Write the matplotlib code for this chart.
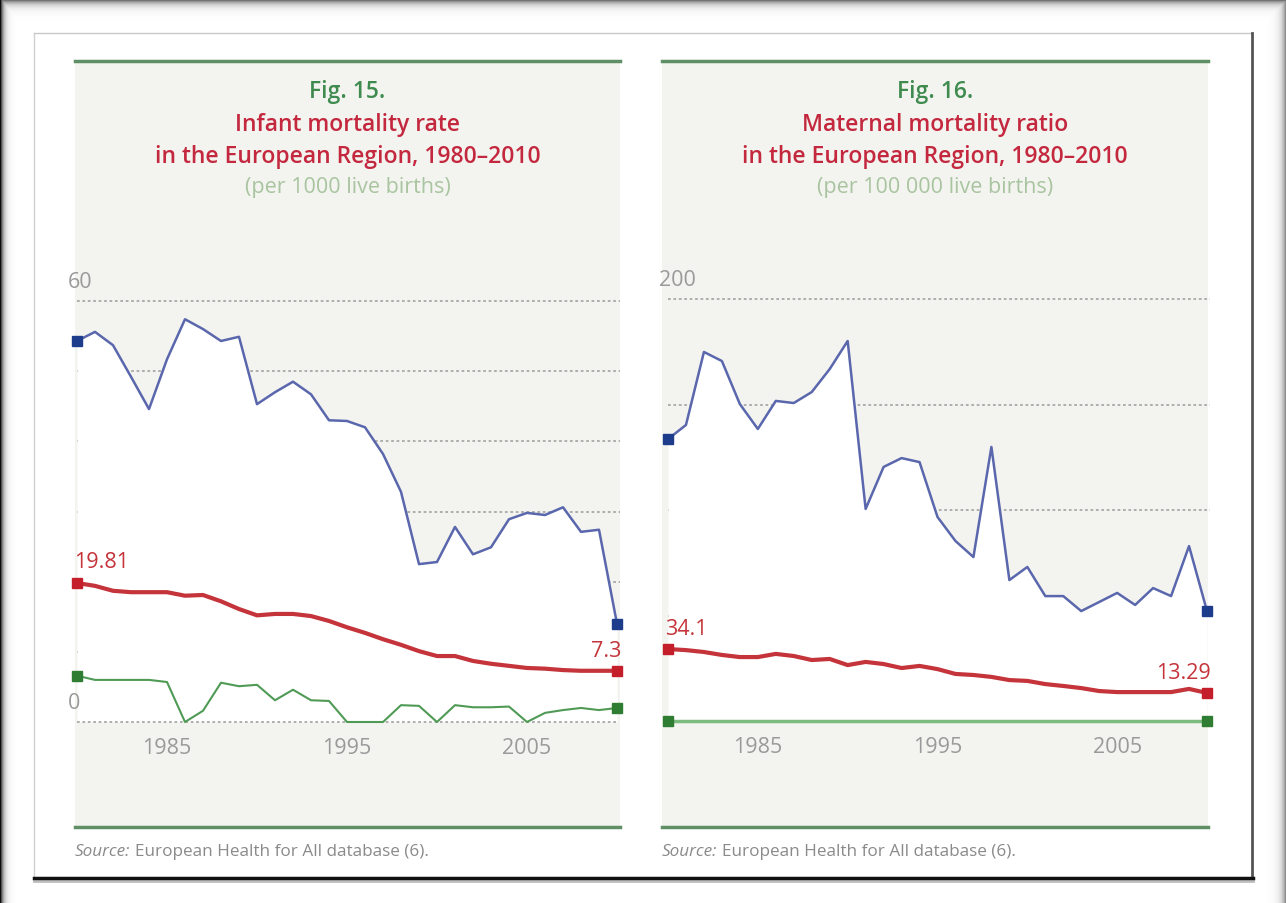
import matplotlib
matplotlib.use("Agg")
import matplotlib.pyplot as plt
import numpy as np
from matplotlib.patches import Rectangle
from matplotlib.lines import Line2D

# ---------------- data ----------------
years = list(range(1980, 2011))

infant_max = [54.3, 55.6, 53.7, 49.2, 44.6, 51.7, 57.4, 56.0, 54.3, 54.9,
              45.3, 47.0, 48.5, 46.7, 43.0, 42.9, 42.0, 38.2, 32.8, 22.5,
              22.8, 27.8, 23.9, 24.9, 28.9, 29.8, 29.5, 30.6, 27.1, 27.4, 14.0]
infant_avg = [19.81, 19.4, 18.7, 18.5, 18.5, 18.5, 18.0, 18.1, 17.2, 16.1,
              15.2, 15.4, 15.4, 15.1, 14.4, 13.5, 12.7, 11.8, 11.0, 10.1,
              9.4, 9.4, 8.7, 8.3, 8.0, 7.7, 7.6, 7.4, 7.3, 7.3, 7.3]
infant_min = [6.6, 6.0, 6.0, 6.0, 6.0, 5.7, 0.0, 1.6, 5.6, 5.1,
              5.3, 3.1, 4.6, 3.1, 3.0, 0.0, 0.0, 0.0, 2.4, 2.3,
              0.0, 2.4, 2.1, 2.1, 2.2, 0.0, 1.3, 1.7, 2.0, 1.7, 2.0]

maternal_max = [133.6, 140.3, 174.9, 170.6, 150.2, 138.4, 151.7, 150.7, 155.9, 166.8,
                180.1, 100.5, 120.4, 124.6, 122.7, 96.7, 85.3, 77.7, 129.9, 66.8,
                73.0, 59.2, 59.2, 52.1, 56.4, 60.7, 55.0, 63.0, 59.2, 82.9, 52.1]
maternal_avg = [34.1, 33.6, 32.7, 31.3, 30.3, 30.3, 31.8, 30.8, 28.9, 29.4,
                26.5, 28.0, 27.0, 25.1, 26.1, 24.6, 22.3, 21.8, 20.9, 19.4,
                19.0, 17.5, 16.6, 15.6, 14.2, 13.7, 13.7, 13.7, 13.7, 15.2, 13.29]
maternal_min = [0, 0, 0, 0, 0, 0, 0, 0, 0, 0,
                0, 0, 0, 0, 0, 0, 0, 0, 0, 0,
                0, 0, 0, 0, 0, 0, 0, 0, 0, 0, 0]

xtick_years = [1985, 1995, 2005]
infant_grid = [10, 20, 30, 40, 50, 60]
infant_ylabels = [0, 60]
maternal_grid = [50, 100, 150, 200]
maternal_ylabels = [200]

titles = [
    ("Fig. 15.", "Infant mortality rate", "in the European Region, 1980\u20132010",
     "(per 1000 live births)"),
    ("Fig. 16.", "Maternal mortality ratio", "in the European Region, 1980\u20132010",
     "(per 100 000 live births)"),
]
source_text = "European Health for All database (6)."

# ---------------- style ----------------
FONT = ["Open Sans", "DejaVu Sans"]
plt.rcParams["font.family"] = FONT

W, H = 1286, 904
fig = plt.figure(figsize=(W / 100, H / 100), dpi=100)
fig.patch.set_facecolor("white")

def fx(x):
    return x / W

def fy(y):
    return 1 - y / H

C_PANEL = "#f3f4ef"
C_GREEN_RULE = "#5f8f65"
C_BLUE = "#5a67ad"
C_BLUE_M = "#1d3d8c"
C_RED = "#c4343a"
C_RED_M = "#c41e2a"
C_GREEN = "#4f9a55"
C_GREEN_M = "#2e7d32"
C_GREEN_R = "#7cbb80"
C_GRID = "#a8a8a8"
C_TICK = "#9a9a9a"
C_FIGT = "#3f8b4f"
C_TITLE = "#c4283f"
C_SUB = "#a9c4a0"

# ---------------- page frame / vignette ----------------
bg = fig.add_axes([0, 0, 1, 1], zorder=-10)
yy, xx = np.mgrid[0:H, 0:W]
alpha = np.maximum.reduce([
    0.7 * np.exp(-yy / 4.0),
    0.95 * np.exp(-xx / 3.0),
    0.45 * np.exp(-(W - 1 - xx) / 4.0),
])
img = np.zeros((H, W, 4))
img[..., 3] = alpha
bg.imshow(img, extent=[0, W, H, 0], aspect="auto", interpolation="bilinear")
bg.set_xlim(0, W)
bg.set_ylim(H, 0)
bg.axis("off")

fig.add_artist(Line2D([fx(34), fx(1252)], [fy(34), fy(34)], color="#c8c8c8", lw=1))
fig.add_artist(Line2D([fx(34), fx(34)], [fy(34), fy(879)], color="#d0d0d0", lw=1))
fig.add_artist(Line2D([fx(1252), fx(1252)], [fy(34), fy(879)], color="#555555", lw=2))
fig.add_artist(Line2D([fx(34), fx(1253)], [fy(882), fy(882)], color="#bdbdbd", lw=2))
fig.add_artist(Line2D([fx(34), fx(1253)], [fy(879), fy(879)], color="#111111", lw=2.5))

# ---------------- panels ----------------
panels = [
    dict(x0=75, x1=620, ax_x0=77, ax_x1=617, y0px=723, ytop_px=302, ymax=60,
         maxs=infant_max, avgs=infant_avg, mins=infant_min, grid=infant_grid,
         ylabels=infant_ylabels, baseline=True, min_color=C_GREEN, min_lw=1.5),
    dict(x0=662, x1=1208, ax_x0=668, ax_x1=1207, y0px=722, ytop_px=300, ymax=200,
         maxs=maternal_max, avgs=maternal_avg, mins=maternal_min, grid=maternal_grid,
         ylabels=maternal_ylabels, baseline=False, min_color=C_GREEN_R, min_lw=2.5),
]

TITLE_FS = 16.5
LABEL_FS = 15.5

for i, p in enumerate(panels):
    # panel background and rules
    fig.add_artist(Rectangle((fx(p["x0"]), fy(828)), fx(p["x1"]) - fx(p["x0"]),
                             (828 - 62) / H, transform=fig.transFigure,
                             facecolor=C_PANEL, edgecolor="none", zorder=-5))
    fig.add_artist(Line2D([fx(p["x0"]), fx(p["x1"])], [fy(62), fy(62)],
                          color=C_GREEN_RULE, lw=2.5))
    fig.add_artist(Line2D([fx(p["x0"]), fx(p["x1"])], [fy(828), fy(828)],
                          color=C_GREEN_RULE, lw=2.5))

    # titles
    cx = fx((p["x0"] + p["x1"]) / 2)
    t = titles[i]
    fig.text(cx, fy(92), t[0], color=C_FIGT, fontsize=TITLE_FS, ha="center", va="center",
             fontweight="semibold")
    fig.text(cx, fy(125), t[1], color=C_TITLE, fontsize=TITLE_FS, ha="center", va="center",
             fontweight="semibold")
    fig.text(cx, fy(157), t[2], color=C_TITLE, fontsize=TITLE_FS, ha="center", va="center",
             fontweight="semibold")
    fig.text(cx, fy(188), t[3], color=C_SUB, fontsize=15.5, ha="center", va="center")

    # source
    st = fig.text(fx(p["x0"]), fy(852), "Source:", color="#8a8a8a", fontsize=12.3,
                  style="italic", ha="left", va="center")
    fig.canvas.draw()
    bb = st.get_window_extent()
    fig.text((bb.x1 + 5) / W, fy(852), source_text, color="#8a8a8a", fontsize=12.3,
             ha="left", va="center")

    # data axes
    ax = fig.add_axes([fx(p["ax_x0"]), fy(p["y0px"]), fx(p["ax_x1"]) - fx(p["ax_x0"]),
                       (p["y0px"] - p["ytop_px"]) / H])
    ax.set_xlim(years[0], years[-1])
    ax.set_ylim(0, p["ymax"])
    ax.axis("off")
    ax.patch.set_alpha(0)

    for g in p["grid"]:
        ax.plot([years[0], years[-1] + 0.15], [g, g], color=C_GRID, lw=1.3,
                ls=(0, (1.5, 1.5)), zorder=1, clip_on=False)

    ax.fill_between(years, 0, p["maxs"], color="white", zorder=2, lw=0)

    if p["baseline"]:
        ax.plot([years[0], years[-1]], [0, 0], color=C_GRID, lw=1.3,
                ls=(0, (1.5, 1.5)), zorder=3, clip_on=False)

    ax.plot(years, p["maxs"], color=C_BLUE, lw=1.8, zorder=4, clip_on=False)
    ax.plot(years, p["avgs"], color=C_RED, lw=3.0, zorder=5, clip_on=False)
    ax.plot(years, p["mins"], color=p["min_color"], lw=p["min_lw"], zorder=4,
            clip_on=False)

    for series, mc in ((p["maxs"], C_BLUE_M), (p["avgs"], C_RED_M), (p["mins"], C_GREEN_M)):
        ax.plot([years[0], years[-1]], [series[0], series[-1]], ls="none", marker="s",
                ms=7, color=mc, zorder=6, clip_on=False)

    # value labels
    ax.annotate("{:g}".format(p["avgs"][0]), xy=(years[0], p["avgs"][0]),
                xytext=(-3, 21), textcoords="offset pixels", ha="left", va="center",
                color=C_RED, fontsize=LABEL_FS, annotation_clip=False)
    ax.annotate("{:g}".format(p["avgs"][-1]), xy=(years[-1], p["avgs"][-1]),
                xytext=(4, 20), textcoords="offset pixels", ha="right", va="center",
                color=C_RED, fontsize=LABEL_FS, annotation_clip=False)

    # y labels
    for v in p["ylabels"]:
        ax.annotate(str(v), xy=(years[0], v), xytext=(-9, 19), textcoords="offset pixels",
                    ha="left", va="center", color=C_TICK, fontsize=LABEL_FS,
                    annotation_clip=False)

    # x labels
    for yr in xtick_years:
        ax.annotate(str(yr), xy=(yr, 0), xytext=(0, -26), textcoords="offset pixels",
                    ha="center", va="center", color=C_TICK, fontsize=LABEL_FS,
                    annotation_clip=False)

fig.savefig("out.png", dpi=100)
